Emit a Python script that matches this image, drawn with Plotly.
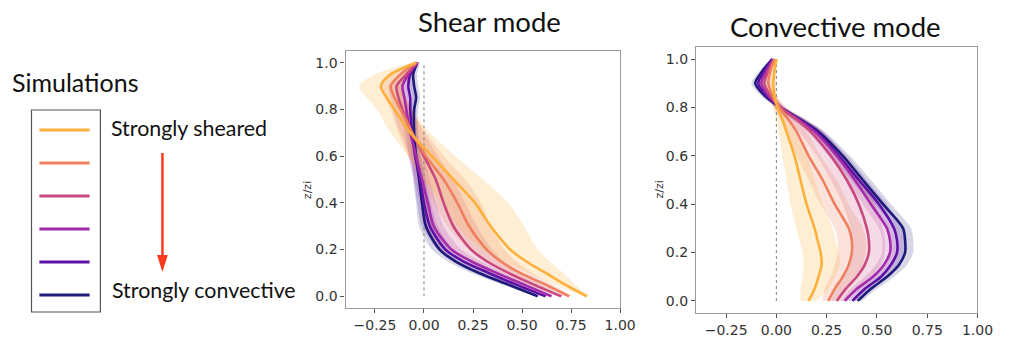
import plotly.graph_objects as go

W, H = 1024, 346

# ---------------- data ----------------
COLORS = ["#fcb03c", "#ee8060", "#c9497e", "#a42ca8", "#5d10a3", "#1d1a7a"]
FILLS = ["rgba(252,176,60,0.22)", "rgba(238,128,96,0.22)", "rgba(201,73,126,0.20)",
         "rgba(164,44,168,0.18)", "rgba(93,16,163,0.18)", "rgba(29,26,122,0.18)"]

SHEAR_Z = [0, 0.05, 0.1, 0.15, 0.2, 0.3, 0.4, 0.5, 0.6, 0.7, 0.8, 0.85, 0.9, 0.95, 1.0]
SHEAR_ORANGE = [0.83, 0.72, 0.62, 0.52, 0.44, 0.34, 0.26, 0.15, 0.04, -0.07, -0.15, -0.19, -0.22, -0.17, -0.04]
SHEAR_SALMON = [0.74, 0.62, 0.49, 0.39, 0.32, 0.23, 0.17, 0.10, 0.01, -0.06, -0.12, -0.15, -0.17, -0.12, -0.04]
SHEAR_PINK = [0.70, 0.56, 0.43, 0.32, 0.24, 0.15, 0.10, 0.06, 0.0, -0.06, -0.11, -0.13, -0.14, -0.09, -0.035]
SHEAR_PURPLE = [0.65, 0.51, 0.37, 0.24, 0.14, 0.05, 0.02, -0.01, -0.04, -0.07, -0.09, -0.10, -0.11, -0.08, -0.035]
SHEAR_VIOLET = [0.62, 0.47, 0.33, 0.20, 0.11, 0.03, 0.0, -0.02, -0.045, -0.06, -0.07, -0.07, -0.08, -0.07, -0.035]
SHEAR_NAVY = [0.58, 0.43, 0.28, 0.16, 0.08, 0.01, -0.01, -0.025, -0.04, -0.05, -0.05, -0.04, -0.05, -0.055, -0.035]

SHEAR_SPREAD_ORANGE = [0.02, 0.05, 0.09, 0.12, 0.14, 0.17, 0.17, 0.15, 0.12, 0.10, 0.09, 0.10, 0.11, 0.08, 0.02]
SHEAR_SPREAD_SALMON = [0.02, 0.04, 0.06, 0.08, 0.09, 0.11, 0.12, 0.11, 0.09, 0.07, 0.05, 0.05, 0.05, 0.04, 0.01]
SHEAR_SPREAD_PINK = [0.02, 0.04, 0.07, 0.09, 0.11, 0.12, 0.11, 0.09, 0.07, 0.06, 0.05, 0.04, 0.04, 0.03, 0.01]
SHEAR_SPREAD_PURPLE = [0.01, 0.03, 0.04, 0.05, 0.05, 0.05, 0.04, 0.04, 0.04, 0.03, 0.03, 0.03, 0.03, 0.02, 0.01]
SHEAR_SPREAD_VIOLET = [0.01, 0.03, 0.04, 0.04, 0.04, 0.04, 0.035, 0.03, 0.03, 0.03, 0.025, 0.025, 0.025, 0.02, 0.01]
SHEAR_SPREAD_NAVY = [0.01, 0.03, 0.04, 0.04, 0.04, 0.035, 0.03, 0.03, 0.02, 0.02, 0.02, 0.02, 0.02, 0.02, 0.01]

CONV_Z = [0, 0.05, 0.1, 0.15, 0.2, 0.25, 0.3, 0.4, 0.5, 0.6, 0.7, 0.75, 0.8, 0.85, 0.9, 0.95, 1.0]
CONV_ORANGE = [0.16, 0.19, 0.21, 0.225, 0.22, 0.205, 0.19, 0.15, 0.12, 0.09, 0.05, 0.03, 0.005, -0.01, -0.015, -0.01, 0.0]
CONV_SALMON = [0.258, 0.29, 0.33, 0.36, 0.375, 0.375, 0.36, 0.29, 0.23, 0.16, 0.10, 0.06, 0.015, -0.02, -0.04, -0.03, -0.01]
CONV_PINK = [0.30, 0.345, 0.40, 0.44, 0.46, 0.46, 0.45, 0.41, 0.35, 0.27, 0.17, 0.10, 0.02, -0.03, -0.06, -0.04, -0.01]
CONV_PURPLE = [0.34, 0.40, 0.48, 0.535, 0.565, 0.565, 0.55, 0.47, 0.39, 0.30, 0.19, 0.11, 0.02, -0.04, -0.075, -0.05, -0.015]
CONV_VIOLET = [0.378, 0.44, 0.52, 0.57, 0.60, 0.60, 0.585, 0.51, 0.41, 0.31, 0.20, 0.11, 0.02, -0.05, -0.09, -0.06, -0.02]
CONV_NAVY = [0.405, 0.47, 0.55, 0.61, 0.64, 0.64, 0.63, 0.53, 0.43, 0.33, 0.21, 0.12, 0.02, -0.06, -0.105, -0.07, -0.02]

CONV_SPREAD_ORANGE = [0.04, 0.07, 0.08, 0.09, 0.09, 0.09, 0.09, 0.08, 0.07, 0.06, 0.04, 0.03, 0.02, 0.015, 0.015, 0.01, 0.005]
CONV_SPREAD_SALMON = [0.03, 0.05, 0.06, 0.07, 0.07, 0.07, 0.07, 0.07, 0.07, 0.06, 0.05, 0.04, 0.03, 0.02, 0.02, 0.015, 0.005]
CONV_SPREAD_PINK = [0.03, 0.05, 0.07, 0.08, 0.08, 0.08, 0.08, 0.08, 0.08, 0.07, 0.06, 0.05, 0.03, 0.02, 0.02, 0.015, 0.005]
CONV_SPREAD_PURPLE = [0.02, 0.03, 0.04, 0.04, 0.04, 0.04, 0.04, 0.04, 0.04, 0.04, 0.035, 0.03, 0.02, 0.02, 0.02, 0.015, 0.005]
CONV_SPREAD_VIOLET = [0.02, 0.03, 0.04, 0.04, 0.04, 0.04, 0.04, 0.04, 0.04, 0.04, 0.035, 0.03, 0.02, 0.02, 0.02, 0.015, 0.005]
CONV_SPREAD_NAVY = [0.02, 0.03, 0.035, 0.04, 0.04, 0.04, 0.04, 0.04, 0.04, 0.035, 0.03, 0.025, 0.02, 0.02, 0.02, 0.015, 0.005]

X_TICKS = [-0.25, 0.0, 0.25, 0.5, 0.75, 1.0]
X_TICK_TEXT = ["\u22120.25", "0.00", "0.25", "0.50", "0.75", "1.00"]
Y_TICKS = [0.0, 0.2, 0.4, 0.6, 0.8, 1.0]
Y_TICK_TEXT = ["0.0", "0.2", "0.4", "0.6", "0.8", "1.0"]

TITLES = ["Shear mode", "Convective mode"]
LEGEND_TITLE = "Simulations"
LEGEND_TOP = "Strongly sheared"
LEGEND_BOTTOM = "Strongly convective"

SHEAR = [SHEAR_ORANGE, SHEAR_SALMON, SHEAR_PINK, SHEAR_PURPLE, SHEAR_VIOLET, SHEAR_NAVY]
SHEAR_SPREAD = [SHEAR_SPREAD_ORANGE, SHEAR_SPREAD_SALMON, SHEAR_SPREAD_PINK,
                SHEAR_SPREAD_PURPLE, SHEAR_SPREAD_VIOLET, SHEAR_SPREAD_NAVY]
CONV = [CONV_ORANGE, CONV_SALMON, CONV_PINK, CONV_PURPLE, CONV_VIOLET, CONV_NAVY]
CONV_SPREAD = [CONV_SPREAD_ORANGE, CONV_SPREAD_SALMON, CONV_SPREAD_PINK,
               CONV_SPREAD_PURPLE, CONV_SPREAD_VIOLET, CONV_SPREAD_NAVY]


def px(x):
    return x / W


def py(y):
    return 1 - y / H


fig = go.Figure()


def add_panel(zs, series, spreads, xa, ya):
    for i in range(len(series) - 1, -1, -1):
        lo = [m - s for m, s in zip(series[i], spreads[i])]
        hi = [m + s for m, s in zip(series[i], spreads[i])]
        fig.add_trace(go.Scatter(x=lo + hi[::-1], y=zs + zs[::-1], fill="toself",
                                 fillcolor=FILLS[i], line=dict(width=0, shape="spline", smoothing=0.8),
                                 mode="lines", hoverinfo="skip", showlegend=False,
                                 xaxis=xa, yaxis=ya))
    fig.add_trace(go.Scatter(x=[0, 0], y=[0, 1], mode="lines",
                             line=dict(color="#8a8a8a", width=1.1, dash="dot"),
                             showlegend=False, xaxis=xa, yaxis=ya))
    for i in range(len(series) - 1, -1, -1):
        fig.add_trace(go.Scatter(x=series[i], y=zs, mode="lines",
                                 line=dict(color=COLORS[i], width=2.6, shape="spline", smoothing=0.8),
                                 showlegend=False, xaxis=xa, yaxis=ya))


add_panel(SHEAR_Z, SHEAR, SHEAR_SPREAD, "x", "y")
add_panel(CONV_Z, CONV, CONV_SPREAD, "x2", "y2")

axis_common = dict(showgrid=False, zeroline=False, showline=True, mirror=True,
                   linecolor="#9a9a9a", linewidth=1.2, ticks="outside", ticklen=4,
                   tickcolor="#555555", tickfont=dict(family="DejaVu Sans", size=14, color="#333333"))

fig.update_layout(
    width=W, height=H, margin=dict(l=0, r=0, t=0, b=0),
    paper_bgcolor="white", plot_bgcolor="white", showlegend=False,
    xaxis=dict(domain=[351 / W, 630 / W], range=[-0.4, 1.0], tickvals=X_TICKS,
               ticktext=X_TICK_TEXT, anchor="y", **axis_common),
    yaxis=dict(domain=[py(308), py(51)], range=[-0.05, 1.05], tickvals=Y_TICKS,
               ticktext=Y_TICK_TEXT, anchor="x", **axis_common),
    xaxis2=dict(domain=[707 / W, 993 / W], range=[-0.4, 1.0], tickvals=X_TICKS,
                ticktext=X_TICK_TEXT, anchor="y2", **axis_common),
    yaxis2=dict(domain=[py(313), py(47)], range=[-0.05, 1.05], tickvals=Y_TICKS,
                ticktext=Y_TICK_TEXT, anchor="x2", **axis_common),
)


def label(text, x, y, size, family="Lato", xanchor="center", angle=0, color="#111111"):
    return dict(text=text, x=px(x), y=py(y), xref="paper", yref="paper",
                xanchor=xanchor, yanchor="middle", showarrow=False, textangle=angle,
                font=dict(family=family, size=size, color=color))


ann = [
    label(TITLES[0], 497, 21, 27.5),
    label(TITLES[1], 849, 26, 27.5),
    label("z/zi", 312, 190, 11, family="DejaVu Sans", angle=-90, color="#333333"),
    label("z/zi", 669, 190, 11, family="DejaVu Sans", angle=-90, color="#333333"),
    label(LEGEND_TITLE, 10, 82, 25, xanchor="left"),
    label(LEGEND_TOP, 111, 128, 21.4, xanchor="left"),
    label(LEGEND_BOTTOM, 112, 290, 21.4, xanchor="left"),
]
fig.update_layout(annotations=ann)

shapes = []
shapes.append(dict(type="rect", xref="paper", yref="paper", x0=px(32), x1=px(102),
                   y0=py(312), y1=py(110), line=dict(color="#555555", width=1.2)))
for k, c in enumerate(COLORS):
    yy = 130 + k * 33
    shapes.append(dict(type="line", xref="paper", yref="paper", x0=px(40), x1=px(91),
                       y0=py(yy), y1=py(yy), line=dict(color=c, width=3)))
shapes.append(dict(type="line", xref="paper", yref="paper", x0=px(165), x1=px(165),
                   y0=py(153), y1=py(258), line=dict(color="#ff3b1f", width=2.5)))
shapes.append(dict(type="path", xref="paper", yref="paper",
                   path=f"M {px(159.5)},{py(255)} L {px(170.5)},{py(255)} L {px(165)},{py(272)} Z",
                   fillcolor="#ff3b1f", line=dict(color="#ff3b1f", width=0)))
fig.update_layout(shapes=shapes)

fig.write_html("out.html")
